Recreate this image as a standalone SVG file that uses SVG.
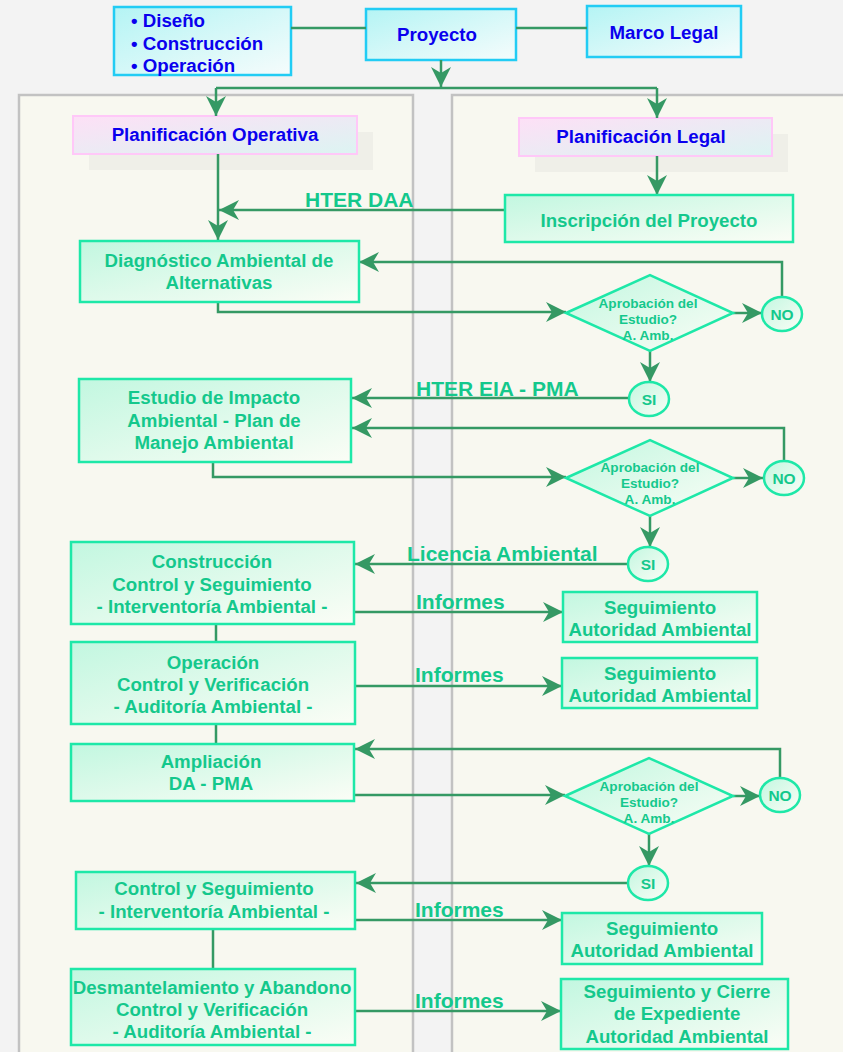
<svg xmlns="http://www.w3.org/2000/svg" width="843" height="1052" viewBox="0 0 843 1052">
  <defs>
    <linearGradient id="gGreen" x1="0" y1="0" x2="1" y2="1">
      <stop offset="0" stop-color="#c2f7e0"/>
      <stop offset="1" stop-color="#fbfdf6"/>
    </linearGradient>
    <linearGradient id="gCyan" x1="0" y1="0" x2="1" y2="1">
      <stop offset="0" stop-color="#b4f4f4"/>
      <stop offset="1" stop-color="#f6fcfc"/>
    </linearGradient>
    <linearGradient id="gPink" x1="0" y1="0" x2="1" y2="1">
      <stop offset="0" stop-color="#fde0f6"/>
      <stop offset="1" stop-color="#dcf4f2"/>
    </linearGradient>
    <marker id="arr" markerUnits="userSpaceOnUse" viewBox="0 0 20 20" refX="20" refY="10" markerWidth="20" markerHeight="20" orient="auto">
      <path d="M0,0 L20,10 L0,20 L6,10 z" fill="#359964"/>
    </marker>
    <style>
      text { font-family: "Liberation Sans", Arial, sans-serif; font-weight: bold; }
      .bg { fill: #f3f3f3; }
      .panel { fill: #f8f8f0; stroke: #c2c2c2; stroke-width: 2.5; }
      .top { fill: url(#gCyan); stroke: #22ccf4; stroke-width: 2.5; }
      .plan { fill: url(#gPink); stroke: #ffc8f8; stroke-width: 2; }
      .shadow { fill: #efefe8; }
      .box { fill: url(#gGreen); stroke: #1ee8a8; stroke-width: 2.5; }
      .blue { fill: #0a00ee; font-size: 18.7px; }
      .t { fill: #14c88c; font-size: 18.7px; text-anchor: middle; }
      .d { fill: #14c88c; font-size: 13.6px; text-anchor: middle; }
      .c { fill: #14c88c; font-size: 15.5px; text-anchor: middle; }
      .lbl { fill: #14c88c; font-size: 21px; }
      .ln { fill: none; stroke: #359964; stroke-width: 2.5; }
      .ar { marker-end: url(#arr); }
    </style>
  </defs>

  <!-- page and swimlanes -->
  <rect class="bg" x="0" y="0" width="843" height="1052"/>
  <rect class="panel" x="19" y="95" width="394" height="970"/>
  <rect class="panel" x="452" y="95" width="400" height="970"/>

  <!-- top row -->
  <g id="fases">
    <rect class="top" x="114" y="7" width="177" height="68"/>
    <text class="blue" x="131" y="27">• Diseño</text>
    <text class="blue" x="131" y="50">• Construcción</text>
    <text class="blue" x="131" y="72">• Operación</text>
  </g>
  <g id="proyecto">
    <rect class="top" x="366" y="9" width="150" height="51"/>
    <text class="blue" x="437" y="41" text-anchor="middle">Proyecto</text>
  </g>
  <g id="marco-legal">
    <rect class="top" x="587" y="6" width="154" height="51"/>
    <text class="blue" x="664" y="39" text-anchor="middle">Marco Legal</text>
  </g>

  <!-- planning headers -->
  <g id="plan-operativa">
    <rect class="shadow" x="89" y="132" width="284" height="38"/>
    <rect class="plan" x="73" y="116" width="284" height="38"/>
    <text class="blue" x="215" y="141" text-anchor="middle">Planificación Operativa</text>
  </g>
  <g id="plan-legal">
    <rect class="shadow" x="535" y="134" width="253" height="38"/>
    <rect class="plan" x="519" y="118" width="253" height="38"/>
    <text class="blue" x="641" y="143" text-anchor="middle">Planificación Legal</text>
  </g>

  <!-- connectors -->
  <g id="connectors">
    <path class="ln" d="M291,28 H366"/>
    <path class="ln" d="M516,28 H587"/>
    <path class="ln ar" d="M441,60 V87"/>
    <path class="ln" d="M216,88 H657"/>
    <path class="ln ar" d="M216,88 V116"/>
    <path class="ln ar" d="M657,88 V118"/>
    <path class="ln ar" d="M218,154 V240"/>
    <path class="ln ar" d="M505,210 H219"/>
    <path class="ln ar" d="M657,156 V195"/>
    <path class="ln ar" d="M218,302 V312 H566"/>
    <path class="ln ar" d="M733,313 H762"/>
    <path class="ln ar" d="M782,297 V262 H359"/>
    <path class="ln ar" d="M650,351 V382"/>
    <path class="ln ar" d="M629,398 H352"/>
    <path class="ln ar" d="M213,462 V477 H566"/>
    <path class="ln ar" d="M733,478 H763"/>
    <path class="ln ar" d="M784,460 V428 H352"/>
    <path class="ln ar" d="M650,516 V547"/>
    <path class="ln ar" d="M628,564 H355"/>
    <path class="ln ar" d="M354,612 H563"/>
    <path class="ln" d="M216,624 V642"/>
    <path class="ln ar" d="M355,686 H562"/>
    <path class="ln" d="M216,724 V744"/>
    <path class="ln ar" d="M354,795 H565"/>
    <path class="ln ar" d="M733,796 H760"/>
    <path class="ln ar" d="M780,778 V749 H355"/>
    <path class="ln ar" d="M649,834 V866"/>
    <path class="ln ar" d="M628,883 H356"/>
    <path class="ln ar" d="M355,920 H562"/>
    <path class="ln" d="M213,929 V969"/>
    <path class="ln ar" d="M355,1011 H561"/>
  </g>

  <!-- connector labels -->
  <text class="lbl" x="305" y="207">HTER DAA</text>
  <text class="lbl" x="416" y="396">HTER EIA - PMA</text>
  <text class="lbl" x="407" y="561">Licencia Ambiental</text>
  <text class="lbl" x="416" y="609">Informes</text>
  <text class="lbl" x="415" y="682">Informes</text>
  <text class="lbl" x="415" y="917">Informes</text>
  <text class="lbl" x="415" y="1008">Informes</text>

  <!-- legal lane -->
  <g id="inscripcion">
    <rect class="box" x="505" y="195" width="288" height="47"/>
    <text class="t" x="649" y="227">Inscripción del Proyecto</text>
  </g>
  <g id="aprobacion-1">
    <polygon class="box" points="566,313 650,275 733,313 650,351"/>
    <text class="d" x="648" y="308">Aprobación del</text>
    <text class="d" x="648" y="324">Estudio?</text>
    <text class="d" x="648" y="340">A. Amb.</text>
  </g>
  <g id="no-1">
    <ellipse class="box" cx="782" cy="314" rx="20" ry="17"/>
    <text class="c" x="782" y="319.5">NO</text>
  </g>
  <g id="si-1">
    <ellipse class="box" cx="649" cy="399" rx="20" ry="17"/>
    <text class="c" x="649" y="404.5">SI</text>
  </g>
  <g id="aprobacion-2">
    <polygon class="box" points="566,478 650,440 733,478 650,516"/>
    <text class="d" x="650" y="472">Aprobación del</text>
    <text class="d" x="650" y="488">Estudio?</text>
    <text class="d" x="650" y="504">A. Amb.</text>
  </g>
  <g id="no-2">
    <ellipse class="box" cx="784" cy="478" rx="20" ry="17"/>
    <text class="c" x="784" y="483.5">NO</text>
  </g>
  <g id="si-2">
    <ellipse class="box" cx="648" cy="564" rx="20" ry="17"/>
    <text class="c" x="648" y="569.5">SI</text>
  </g>
  <g id="seguimiento-1">
    <rect class="box" x="563" y="592" width="194" height="50"/>
    <text class="t" x="660" y="614">Seguimiento</text>
    <text class="t" x="660" y="636">Autoridad Ambiental</text>
  </g>
  <g id="seguimiento-2">
    <rect class="box" x="562" y="658" width="195" height="50"/>
    <text class="t" x="660" y="680">Seguimiento</text>
    <text class="t" x="660" y="702">Autoridad Ambiental</text>
  </g>
  <g id="aprobacion-3">
    <polygon class="box" points="565,796 649,758 733,796 649,834"/>
    <text class="d" x="649" y="791">Aprobación del</text>
    <text class="d" x="649" y="807">Estudio?</text>
    <text class="d" x="649" y="823">A. Amb.</text>
  </g>
  <g id="no-3">
    <ellipse class="box" cx="780" cy="795" rx="20" ry="17"/>
    <text class="c" x="780" y="800.5">NO</text>
  </g>
  <g id="si-3">
    <ellipse class="box" cx="648" cy="883" rx="20" ry="17"/>
    <text class="c" x="648" y="888.5">SI</text>
  </g>
  <g id="seguimiento-3">
    <rect class="box" x="562" y="913" width="200" height="51"/>
    <text class="t" x="662" y="935">Seguimiento</text>
    <text class="t" x="662" y="957">Autoridad Ambiental</text>
  </g>
  <g id="cierre">
    <rect class="box" x="561" y="979" width="227" height="70"/>
    <text class="t" x="677" y="998">Seguimiento y Cierre</text>
    <text class="t" x="677" y="1020">de Expediente</text>
    <text class="t" x="677" y="1043">Autoridad Ambiental</text>
  </g>

  <!-- operational lane -->
  <g id="diagnostico">
    <rect class="box" x="80" y="241" width="279" height="61"/>
    <text class="t" x="219" y="267">Diagnóstico Ambiental de</text>
    <text class="t" x="219" y="289">Alternativas</text>
  </g>
  <g id="eia-pma">
    <rect class="box" x="79" y="379" width="272" height="83"/>
    <text class="t" x="214" y="404">Estudio de Impacto</text>
    <text class="t" x="214" y="427">Ambiental - Plan de</text>
    <text class="t" x="214" y="449">Manejo Ambiental</text>
  </g>
  <g id="construccion">
    <rect class="box" x="71" y="542" width="283" height="82"/>
    <text class="t" x="212" y="568">Construcción</text>
    <text class="t" x="212" y="591">Control y Seguimiento</text>
    <text class="t" x="212" y="613">- Interventoría Ambiental -</text>
  </g>
  <g id="operacion">
    <rect class="box" x="71" y="642" width="284" height="82"/>
    <text class="t" x="213" y="669">Operación</text>
    <text class="t" x="213" y="691">Control y Verificación</text>
    <text class="t" x="213" y="713">- Auditoría Ambiental -</text>
  </g>
  <g id="ampliacion">
    <rect class="box" x="71" y="744" width="283" height="57"/>
    <text class="t" x="211" y="768">Ampliación</text>
    <text class="t" x="211" y="790">DA - PMA</text>
  </g>
  <g id="control">
    <rect class="box" x="76" y="872" width="279" height="57"/>
    <text class="t" x="214" y="895">Control y Seguimiento</text>
    <text class="t" x="214" y="918">- Interventoría Ambiental -</text>
  </g>
  <g id="desmantelamiento">
    <rect class="box" x="71" y="969" width="284" height="76"/>
    <text class="t" x="212" y="994">Desmantelamiento y Abandono</text>
    <text class="t" x="212" y="1016">Control y Verificación</text>
    <text class="t" x="212" y="1038">- Auditoría Ambiental -</text>
  </g>
</svg>
